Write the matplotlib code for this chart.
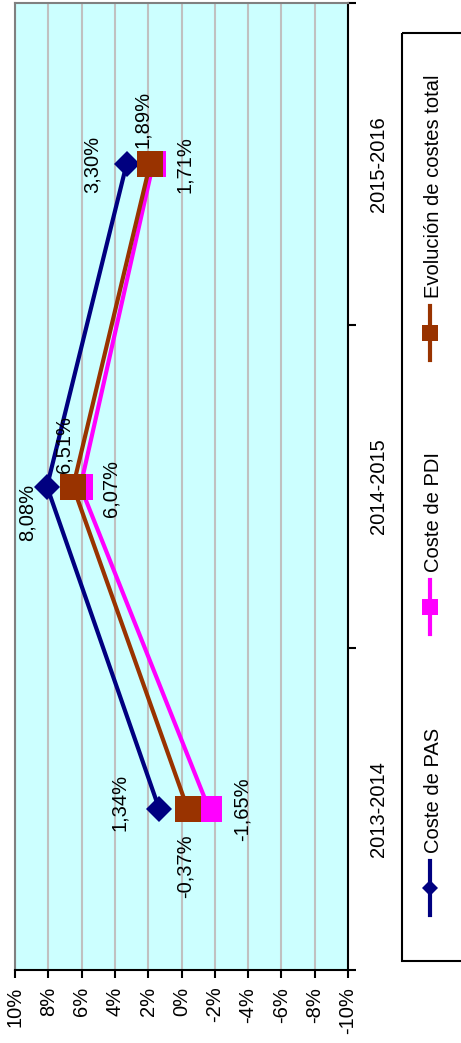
import matplotlib
matplotlib.use('Agg')
import matplotlib.pyplot as plt
from matplotlib.patches import Rectangle

# datos (gráfico girado 90º: valores en horizontal, cursos en vertical)
cursos = ['2013-2014', '2014-2015', '2015-2016']
coste_pas = [1.34, 8.08, 3.30]
coste_pdi = [-1.65, 6.07, 1.71]
coste_total = [-0.37, 6.51, 1.89]
ticks_valor = list(range(-10, 11, 2))

plt.rcParams['font.family'] = ['Liberation Sans', 'DejaVu Sans']
plt.rcParams['font.size'] = 14.5

W, H = 461, 1043
fig = plt.figure(figsize=(W / 100, H / 100), dpi=100)
ax = fig.add_axes([15 / W, 73 / H, 333 / W, 967 / H])
ax.set_facecolor('#CCFFFF')

pos = list(range(len(cursos)))

# nombre, valores, color, marcador, tamaño, desplazamiento de etiquetas (px)
series = [
    ('Coste de PAS', coste_pas, '#000080', 'D', 13.7, [(-40, 6), (-20, -26), (-34, 0)]),
    ('Coste de PDI', coste_pdi, '#FF00FF', 's', 18.7, [(33, 0), (31, -2), (31, 0)]),
    ('Evolución de costes total', coste_total, '#993300', 's', 18.7, [(-3, -57), (-9, 42), (-8, 45)]),
]

for nombre, vals, color, mk, ms, offs in series:
    ax.plot(vals, pos, color=color, lw=3, marker=mk, ms=ms, mew=0, zorder=3)
    for v, p, (dx, dy) in zip(vals, pos, offs):
        ax.annotate(f'{v:.2f}%'.replace('.', ','), (v, p), xytext=(dx, dy),
                    textcoords='offset pixels', rotation=90, ha='center', va='center', zorder=4)

ax.set_xlim(10, -10)
ax.set_ylim(-0.5, 2.5)
ax.set_xticks(ticks_valor)
ax.set_xticklabels([f'{t}%' for t in ticks_valor], rotation=90)
ax.grid(axis='x', color='#C0C0C0', lw=1.5)
ax.set_axisbelow(True)
ax.tick_params(axis='x', direction='out', length=6, width=1.5, pad=6)

ax.yaxis.tick_right()
ax.set_yticks([-0.5, 0.5, 1.5, 2.5])
ax.set_yticklabels([])
ax.set_yticks(pos, minor=True)
ax.set_yticklabels(cursos, minor=True, rotation=90, va='center')
ax.tick_params(axis='y', which='major', direction='out', length=6, width=1.5)
ax.tick_params(axis='y', which='minor', length=0, pad=15)

for s in ['left', 'top']:
    ax.spines[s].set_color('#808080')
    ax.spines[s].set_linewidth(1.5)
for s in ['right', 'bottom']:
    ax.spines[s].set_color('black')
    ax.spines[s].set_linewidth(1.5)

# leyenda dibujada a mano, girada
lax = fig.add_axes([0, 0, 1, 1])
lax.set_xlim(0, W)
lax.set_ylim(H, 0)
lax.axis('off')
lax.add_patch(Rectangle((402, 33), 90, 928, fill=False, ec='black', lw=1.5))
leyenda_y = [888, 607, 333]
for (nombre, vals, color, mk, ms, offs), ly in zip(series, leyenda_y):
    lax.plot([430, 430], [ly - 27, ly + 27], color=color, lw=3)
    lax.plot([430], [ly], color=color, marker=mk, ms=ms * 0.6, mew=0)
    lax.text(433, ly - 35, nombre, rotation=90, ha='center', va='bottom')

fig.savefig('out.png', dpi=100)
